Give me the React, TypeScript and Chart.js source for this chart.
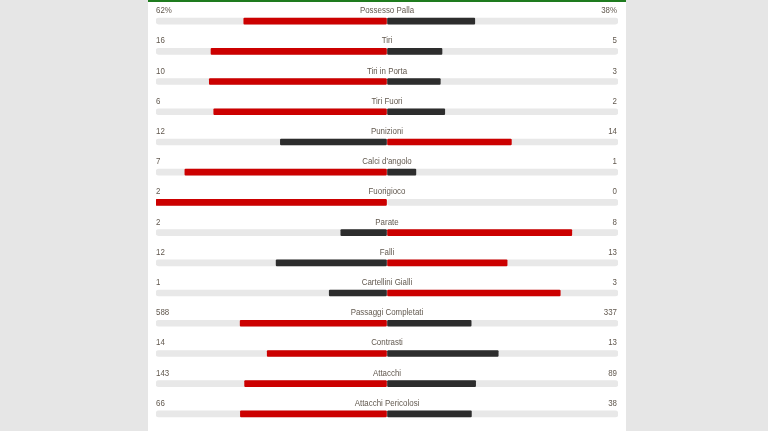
import React, { useEffect, useRef } from "react";
import { Chart, registerables } from "chart.js";

Chart.register(...registerables);

const categories = [
  "Possesso Palla",
  "Tiri",
  "Tiri in Porta",
  "Tiri Fuori",
  "Punizioni",
  "Calci d'angolo",
  "Fuorigioco",
  "Parate",
  "Falli",
  "Cartellini Gialli",
  "Passaggi Completati",
  "Contrasti",
  "Attacchi",
  "Attacchi Pericolosi",
];
const homeValues = [62, 16, 10, 6, 12, 7, 2, 2, 12, 1, 588, 14, 143, 66];
const awayValues = [38, 5, 3, 2, 14, 1, 0, 8, 13, 3, 337, 13, 89, 38];
const homeLabels = ["62%", "16", "10", "6", "12", "7", "2", "2", "12", "1", "588", "14", "143", "66"];
const awayLabels = ["38%", "5", "3", "2", "14", "1", "0", "8", "13", "3", "337", "13", "89", "38"];

const RED = "#cc0000";
const DARK = "#2d2d2d";
const TRACK = "#e8e8e8";
const TEXT = "#62594f";

export default function App() {
  const ref = useRef<HTMLCanvasElement>(null);

  useEffect(() => {
    if (!ref.current) return;
    const g = 0.5 / 231;
    const share = (a: number, b: number) => (a + b === 0 ? 0 : a / (a + b));
    const homeBars = homeValues.map((v, i) => {
      const s = share(v, awayValues[i]);
      return s === 0 ? null : [-s, -g];
    });
    const awayBars = awayValues.map((v, i) => {
      const s = share(v, homeValues[i]);
      return s === 0 ? null : [g, s];
    });
    const homeColors = homeValues.map((v, i) => (v >= awayValues[i] ? RED : DARK));
    const awayColors = awayValues.map((v, i) => (v > homeValues[i] ? RED : DARK));

    const labelPlugin = {
      id: "rowLabels",
      afterDatasetsDraw(chart: any) {
        const { ctx, chartArea, scales } = chart;
        const y = scales.y;
        const sx = 0.88;
        ctx.save();
        ctx.scale(sx, 1);
        ctx.font = "9px 'Liberation Sans', Arial, sans-serif";
        ctx.fillStyle = TEXT;
        ctx.textBaseline = "alphabetic";
        categories.forEach((c, i) => {
          const py = y.getPixelForValue(i) - 8;
          ctx.textAlign = "left";
          ctx.fillText(homeLabels[i], chartArea.left / sx, py);
          ctx.textAlign = "center";
          ctx.fillText(c, (chartArea.left + chartArea.right) / 2 / sx, py);
          ctx.textAlign = "right";
          ctx.fillText(awayLabels[i], (chartArea.right - 1) / sx, py);
        });
        ctx.restore();
      },
    };

    const chart = new Chart(ref.current, {
      type: "bar",
      data: {
        labels: categories,
        datasets: [
          {
            data: homeBars as any,
            backgroundColor: homeColors,
            grouped: false,
            order: 1,
            barThickness: 6,
            borderRadius: 1,
            borderSkipped: false,
          } as any,
          {
            data: awayBars as any,
            backgroundColor: awayColors,
            grouped: false,
            order: 1,
            barThickness: 6,
            borderRadius: 1,
            borderSkipped: false,
          } as any,
          {
            data: categories.map(() => [-1, -g]),
            backgroundColor: TRACK,
            grouped: false,
            order: 2,
            barThickness: 6,
            borderRadius: 3,
            borderSkipped: false,
          } as any,
          {
            data: categories.map(() => [g, 1]),
            backgroundColor: TRACK,
            grouped: false,
            order: 2,
            barThickness: 6,
            borderRadius: 3,
            borderSkipped: false,
          } as any,
        ],
      },
      options: {
        indexAxis: "y",
        responsive: false,
        animation: false,
        layout: { padding: { left: 156, right: 150, top: 6, bottom: 2 } },
        plugins: { legend: { display: false }, tooltip: { enabled: false } },
        scales: {
          x: { display: false, min: -1, max: 1 },
          y: { display: false },
        },
      },
      plugins: [labelPlugin],
    });
    return () => chart.destroy();
  }, []);

  return (
    <div style={{ position: "fixed", left: 0, top: 0, width: 768, height: 431, background: "#e6e6e6", overflow: "hidden" }}>
      <div style={{ position: "absolute", left: 148, top: 0, width: 478, height: 431, background: "#ffffff", borderTop: "2px solid #1e7b1e", boxSizing: "border-box" }} />
      <canvas ref={ref} width={768} height={431} style={{ position: "absolute", left: 0, top: 0, width: 768, height: 431 }} />
    </div>
  );
}
